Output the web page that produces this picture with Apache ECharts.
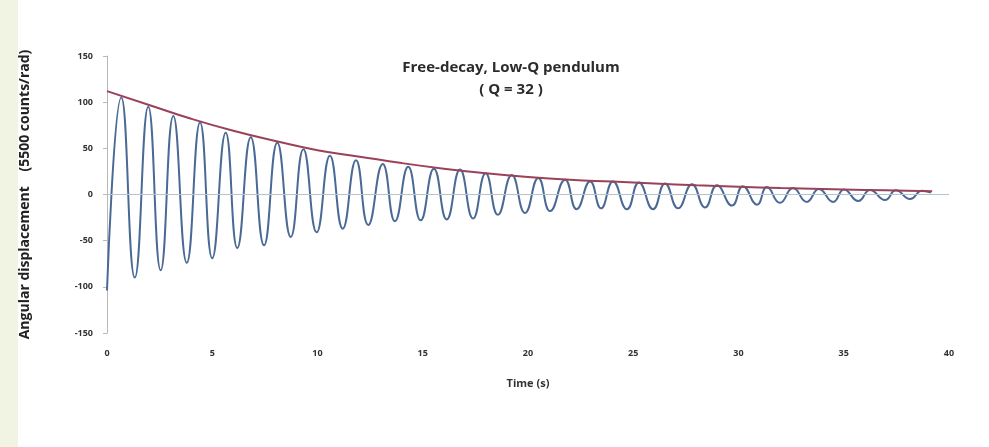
<!DOCTYPE html>
<html>
<head>
<meta charset="utf-8">
<script src="https://cdn.jsdelivr.net/npm/echarts@6/dist/echarts.min.js"></script>
<style>
  html, body { margin: 0; padding: 0; background: #ffffff; }
  #strip { position: absolute; left: 0; top: 0; width: 18px; height: 447px; background: #f1f4e2; }
  #container { position: absolute; left: 0; top: 0; width: 989px; height: 447px; }
</style>
</head>
<body>
<div id="strip"></div>
<div id="container"></div>
<script>
// extrema of the swing (time in s, angle in counts)
let swingTime = [0, 0.68, 1.32, 1.96, 2.55, 3.15, 3.79, 4.42, 5.00, 5.64, 6.19, 6.83, 7.46,
    8.09, 8.73, 9.33, 9.96, 10.59, 11.20, 11.83, 12.41, 13.10, 13.68, 14.31, 14.90,
    15.53, 16.14, 16.77, 17.39, 17.99, 18.57, 19.23, 19.86, 20.49, 21.05, 21.76, 22.31,
    22.95, 23.47, 24.04, 24.70, 25.27, 25.94, 26.51, 27.13, 27.79, 28.41, 28.98, 29.69,
    30.21, 30.88, 31.35, 31.97, 32.59, 33.24, 33.82, 34.50, 35.01, 35.69, 36.25, 36.96,
    37.48, 38.15, 38.72, 39.14];
let swingAngle = [-104, 105, -90, 95, -82, 85, -74, 78, -69, 67, -58, 62, -55,
    56, -46, 49, -41, 42, -37, 37, -33, 33, -29, 30, -28,
    28, -27, 27, -26, 23, -22, 21, -20, 18, -18, 16, -16,
    14, -15, 14, -16, 13, -16, 12, -15, 11, -14, 10, -12,
    9, -11, 8, -9, 7, -8, 6, -8, 5.5, -7, 5, -6,
    4.5, -5, 4, 2];

// decay envelope (red curve)
let envTime = [0, 2, 4, 6, 8, 10, 12, 14, 16, 18, 20, 22, 24, 26, 28, 30, 32, 34, 36, 38, 39.2];
let envValue = [112, 97, 82, 69, 58, 48, 41, 34, 28, 23, 19, 16, 14, 12, 10, 8.5, 7, 6, 5, 4, 3.5];

let swingData = swingTime.map(function (t, i) { return [t, swingAngle[i]]; });
let envData = envTime.map(function (t, i) { return [t, envValue[i]]; });

let dom = document.getElementById("container");
let myChart = echarts.init(dom);

let option = {
    animation: false,
    title: {
        text: 'Free-decay, Low-Q pendulum\n( Q = 32 )',
        left: 506,
        top: 52,
        textAlign: 'center',
        textStyle: {
            fontFamily: 'Open Sans',
            fontSize: 15,
            fontWeight: 'bold',
            color: '#2b2b2b',
            lineHeight: 22
        }
    },
    grid: {
        left: 107,
        right: 40,
        top: 56,
        bottom: 114
    },
    xAxis: {
        type: 'value',
        min: 0,
        max: 40,
        interval: 5,
        name: 'Time (s)',
        nameLocation: 'middle',
        nameGap: 45,
        nameTextStyle: { fontFamily: 'Open Sans', fontSize: 11, fontWeight: 'bold', color: '#333' },
        axisLine: { show: false, onZero: false },
        axisTick: { show: false },
        splitLine: { show: false },
        axisLabel: { fontFamily: 'Open Sans', fontSize: 9, fontWeight: 'bold', color: '#333', margin: 16 }
    },
    yAxis: {
        type: 'value',
        min: -150,
        max: 150,
        interval: 50,
        name: 'Angular displacement    (5500 counts/rad)',
        nameLocation: 'middle',
        nameGap: 75,
        nameTextStyle: { fontFamily: 'Liberation Sans Narrow, Open Sans', fontSize: 14, fontWeight: 'bold', color: '#222' },
        axisLine: { show: true, lineStyle: { color: '#b8b8b8', width: 1 } },
        axisTick: { show: true, inside: false, length: 4, lineStyle: { color: '#b8b8b8' } },
        splitLine: { show: false },
        axisLabel: { fontFamily: 'Open Sans', fontSize: 9, fontWeight: 'bold', color: '#333', margin: 14 }
    },
    series: [
        {
            name: 'swing',
            type: 'line',
            data: swingData,
            smooth: 0.5,
            showSymbol: false,
            lineStyle: { color: '#4a6a95', width: 2 },
            markLine: {
                silent: true,
                symbol: 'none',
                label: { show: false },
                lineStyle: { color: '#b8c4cc', width: 1, type: 'solid' },
                data: [{ yAxis: 0 }]
            }
        },
        {
            name: 'envelope',
            type: 'line',
            data: envData,
            smooth: true,
            showSymbol: false,
            lineStyle: { color: '#9a4258', width: 2 }
        }
    ]
};
if (option && typeof option === "object") {
    myChart.setOption(option, true);
}
</script>
</body>
</html>
